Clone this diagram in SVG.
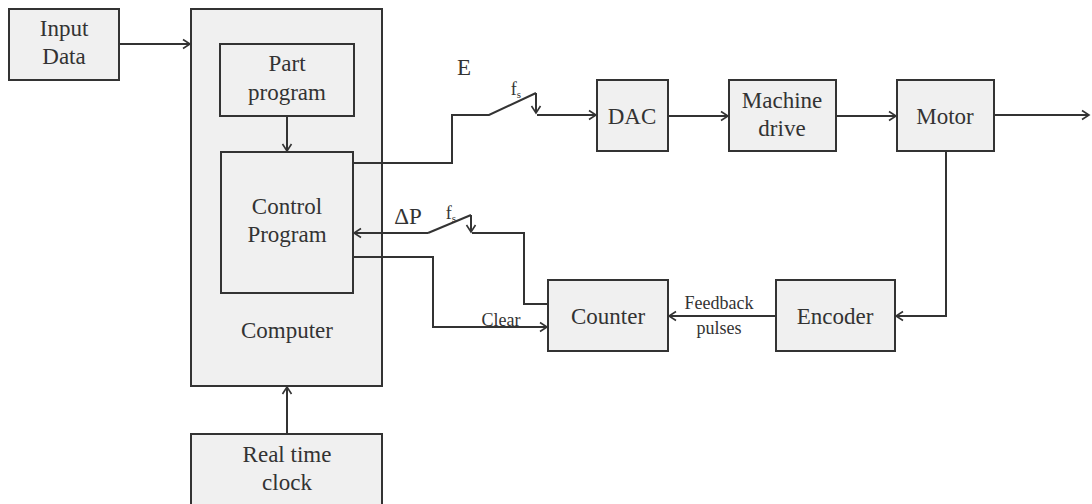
<svg xmlns="http://www.w3.org/2000/svg" width="1092" height="504" viewBox="0 0 1092 504">
<defs>
<style>
.box{fill:#f0f0f0;stroke:#333;stroke-width:2}
.ln{fill:none;stroke:#333;stroke-width:2}
.s{font-size:18px}
</style>
<marker id="ah" markerWidth="12" markerHeight="12" refX="10" refY="6" orient="auto" markerUnits="userSpaceOnUse">
<polyline points="3,1.5 10,6 3,10.5" fill="none" stroke="#333" stroke-width="1.6"/>
</marker>
</defs>
<rect width="1092" height="504" fill="#fff"/>
<g font-family="Liberation Serif, Times New Roman, serif" font-size="23" fill="#333" text-anchor="middle">
<g id="computer"><rect class="box" x="191" y="9" width="191" height="377"/><text x="287" y="338">Computer</text></g>
<g id="input"><rect class="box" x="9" y="9" width="110" height="71"/><text x="64" y="36">Input</text><text x="64" y="64">Data</text></g>
<g id="part"><rect class="box" x="220" y="44" width="134" height="72"/><text x="287" y="71">Part</text><text x="287" y="100">program</text></g>
<g id="control"><rect class="box" x="221" y="152" width="132" height="141"/><text x="287" y="214">Control</text><text x="287" y="242">Program</text></g>
<g id="clock"><rect class="box" x="191" y="434" width="191" height="80"/><text x="287" y="462">Real time</text><text x="287" y="490">clock</text></g>
<g id="dac"><rect class="box" x="597" y="80" width="71" height="71"/><text x="632" y="124">DAC</text></g>
<g id="drive"><rect class="box" x="729" y="80" width="107" height="71"/><text x="782" y="108">Machine</text><text x="782" y="136">drive</text></g>
<g id="motor"><rect class="box" x="897" y="80" width="97" height="71"/><text x="945" y="124">Motor</text></g>
<g id="counter"><rect class="box" x="548" y="280" width="120" height="71"/><text x="608" y="324">Counter</text></g>
<g id="encoder"><rect class="box" x="776" y="280" width="119" height="71"/><text x="835" y="324">Encoder</text></g>
<g id="labels">
<text x="464" y="75">E</text>
<text class="s" x="516" y="95">f<tspan font-size="11" dy="3">s</tspan></text>
<text x="408" y="224">ΔP</text>
<text class="s" x="451" y="219">f<tspan font-size="11" dy="3">s</tspan></text>
<text class="s" x="501" y="326">Clear</text>
<text class="s" x="719" y="309">Feedback</text>
<text class="s" x="719" y="334">pulses</text>
</g>
</g>
<g id="connectors">
<line class="ln" x1="119" y1="44" x2="190" y2="44" marker-end="url(#ah)"/>
<line class="ln" x1="287" y1="116" x2="287" y2="151" marker-end="url(#ah)"/>
<line class="ln" x1="287" y1="434" x2="287" y2="387" marker-end="url(#ah)"/>
<polyline class="ln" points="353,163 452,163 452,115 489,115 536,93"/>
<line class="ln" x1="536" y1="93" x2="536" y2="113" marker-end="url(#ah)"/>
<line class="ln" x1="537" y1="115" x2="596" y2="115" marker-end="url(#ah)"/>
<line class="ln" x1="668" y1="116" x2="728" y2="116" marker-end="url(#ah)"/>
<line class="ln" x1="836" y1="116" x2="896" y2="116" marker-end="url(#ah)"/>
<line class="ln" x1="994" y1="115" x2="1089" y2="115" marker-end="url(#ah)"/>
<polyline class="ln" points="946,151 946,316 896,316" marker-end="url(#ah)"/>
<line class="ln" x1="776" y1="316" x2="669" y2="316" marker-end="url(#ah)"/>
<polyline class="ln" points="548,304 524,304 524,233 472,233"/>
<line class="ln" x1="471" y1="215" x2="471" y2="232" marker-end="url(#ah)"/>
<line class="ln" x1="428" y1="233" x2="471" y2="215"/>
<line class="ln" x1="428" y1="233" x2="354" y2="233" marker-end="url(#ah)"/>
<polyline class="ln" points="353,257 433,257 433,327 547,327" marker-end="url(#ah)"/>
</g>
</svg>
